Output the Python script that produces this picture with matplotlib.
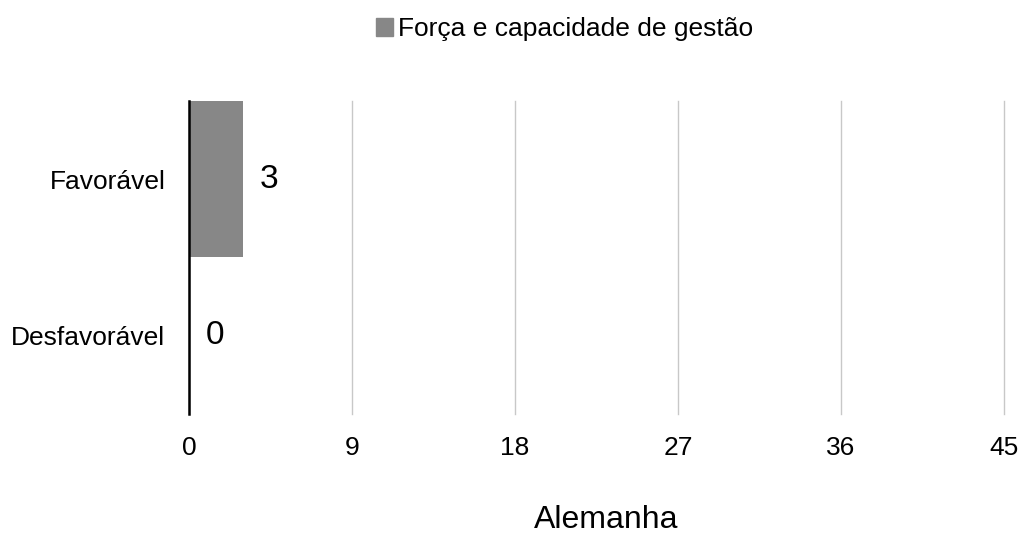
import numpy as np
import matplotlib.pyplot as plt
import matplotlib.patches as mpatches

plt.rcParams['font.family'] = ['Liberation Sans', 'DejaVu Sans']

categories = ['Desfavorável', 'Favorável']
values = [0, 3]
series_name = 'Força e capacidade de gestão'
country = 'Alemanha'
xticks = [0, 9, 18, 27, 36, 45]

fig = plt.figure(figsize=(10.23, 5.35), dpi=100)
ax = fig.add_axes([0.1848, 0.2262, 0.7966, 0.585])

y = np.arange(len(categories))
ax.barh(y, values, height=1.0, color='#878787', zorder=2)
for yi, v in zip(y, values):
    ax.text(v + 0.9, yi, str(v), va='center', ha='left', fontsize=24)

ax.set_xlim(0, 45)
ax.set_ylim(-0.5, 1.5)
ax.set_xticks(xticks)
ax.set_yticks(y)
ax.set_yticklabels(categories, fontsize=19)
ax.tick_params(axis='x', labelsize=19, length=0, pad=16)
ax.tick_params(axis='y', length=0, pad=17)
ax.grid(axis='x', color='#c8c8c8', linewidth=1, zorder=0)
for gl in ax.get_xgridlines():
    gl.set_clip_on(False)  # keep the last line at 45 whole
for s in ['top', 'right', 'bottom']:
    ax.spines[s].set_visible(False)
ax.spines['left'].set_linewidth(1.8)
ax.spines['left'].set_zorder(3)

# axis title sits a bit right of centre in the original
fig.text(0.5924, 0.0131, country, fontsize=23, ha='center', va='baseline')

handle = mpatches.Patch(color='#878787', label=series_name)
fig.legend(handles=[handle], loc='center', bbox_to_anchor=(0.552, 0.945),
           frameon=False, fontsize=19, handlelength=0.65, handleheight=0.65,
           handletextpad=0.2)

fig.savefig('out.png', dpi=100)
